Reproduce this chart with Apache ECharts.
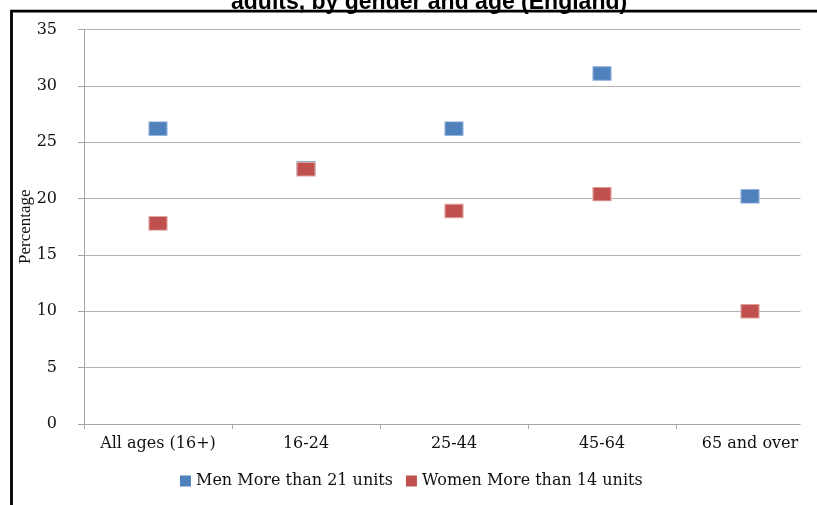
<!DOCTYPE html>
<html>
<head>
<meta charset="utf-8">
<style>
  html, body { margin: 0; padding: 0; background: #fff; overflow: hidden; width: 817px; height: 505px; }
  #chart { width: 824px; height: 505px; }
</style>
<script src="https://cdn.jsdelivr.net/npm/echarts@6/dist/echarts.min.js"></script>
</head>
<body>
<div id="chart"></div>
<script>
// Share of adults drinking above weekly unit guidelines, by age group
const categories = ['All ages (16+)', '16-24', '25-44', '45-64', '65 and over'];
const menOver21 = [26.2, 22.7, 26.2, 31.1, 20.2];
const womenOver14 = [17.8, 22.6, 18.9, 20.4, 10.0];
const yTicks = { min: 0, max: 35, step: 5 };

const labelFont = 'DejaVu Serif';
const chart = echarts.init(document.getElementById('chart'), null, { renderer: 'canvas' });

chart.setOption({
  animation: false,
  backgroundColor: '#ffffff',
  title: {
    text: 'adults, by gender and age (England)',
    left: 226,
    top: -14,
    textStyle: { fontFamily: 'Liberation Sans', fontWeight: 'bold', fontSize: 23, color: '#000' }
  },
  grid: { left: 84, right: 0, top: 29.5, bottom: 81, containLabel: false },
  xAxis: {
    type: 'category',
    data: categories,
    boundaryGap: true,
    axisLine: { lineStyle: { color: '#a6a6a6', width: 1 } },
    axisTick: { show: true, length: 5, lineStyle: { color: '#a6a6a6' } },
    axisLabel: { interval: 0, fontFamily: labelFont, fontSize: 16, color: '#111', margin: 12 },
    splitLine: { show: false }
  },
  yAxis: {
    type: 'value',
    min: yTicks.min,
    max: yTicks.max,
    interval: yTicks.step,
    name: 'Percentage',
    nameLocation: 'middle',
    nameGap: 50,
    nameMoveOverlap: false,
    nameRotate: 90,
    nameTextStyle: { fontFamily: 'Liberation Serif', fontSize: 17, color: '#111' },
    axisLine: { show: true, lineStyle: { color: '#a6a6a6', width: 1 } },
    axisTick: { show: true, length: 6, lineStyle: { color: '#a6a6a6' } },
    axisLabel: { fontFamily: labelFont, fontSize: 16, color: '#111', margin: 27 },
    splitLine: { show: true, lineStyle: { color: '#b3b3b3', width: 1 } }
  },
  legend: {
    left: 175,
    top: 468,
    itemWidth: 11,
    itemHeight: 11,
    itemGap: 13,
    icon: 'rect',
    itemStyle: { borderWidth: 0 },
    textStyle: { fontFamily: labelFont, fontSize: 16, color: '#111' },
    data: ['Men More than 21 units', 'Women More than 14 units']
  },
  graphic: [
    {
      // plot area ends short of the page's right edge
      type: 'rect', z: 100,
      shape: { x: 800.5, y: 20, width: 30, height: 411 },
      style: { fill: '#ffffff' }
    },
    {
      // chart frame
      type: 'rect', z: 101,
      shape: { x: 11.5, y: 11.2, width: 900, height: 600 },
      style: { fill: 'none', stroke: '#000', lineWidth: 2.8 }
    }
  ],
  series: [
    {
      name: 'Men More than 21 units',
      type: 'scatter',
      symbol: 'rect',
      symbolSize: [18, 13.5],
      data: menOver21,
      itemStyle: { color: '#4F81BD', opacity: 1, borderColor: '#8fb0da', borderWidth: 1 },
      z: 2
    },
    {
      name: 'Women More than 14 units',
      type: 'scatter',
      symbol: 'rect',
      symbolSize: [18, 13.5],
      data: womenOver14,
      itemStyle: { color: '#C0504D', opacity: 1, borderColor: '#e0a09e', borderWidth: 1 },
      z: 3
    }
  ]
});
</script>
</body>
</html>
